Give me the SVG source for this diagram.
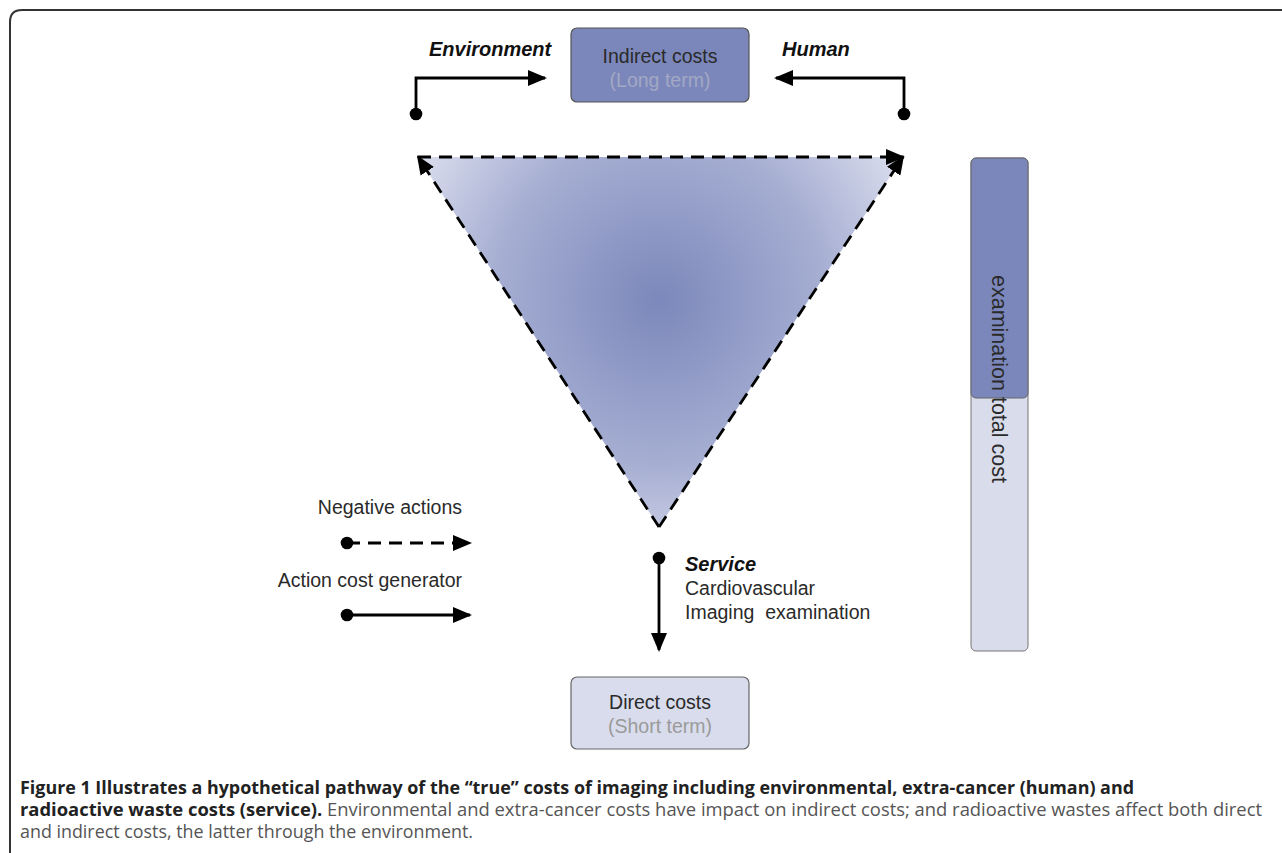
<svg xmlns="http://www.w3.org/2000/svg" width="1282" height="853" viewBox="0 0 1282 853">
  <style>
    .lbl { font-family: "Liberation Sans", Arial, sans-serif; font-size: 19.5px; fill: #2a2a2a; }
    .bi { font-family: "Liberation Sans", Arial, sans-serif; font-size: 20px; font-weight: bold; font-style: italic; fill: #111; }
    .sub { font-family: "Liberation Sans", Arial, sans-serif; font-size: 19.5px; }
    .cap { font-family: "Open Sans", "Liberation Sans", sans-serif; font-size: 18px; }
    .solid { fill: none; stroke: #000; stroke-width: 2.8; }
    .dash { fill: none; stroke: #000; stroke-width: 2.8; stroke-dasharray: 13 8; }
  </style>
  <defs>
    <radialGradient id="tri" gradientUnits="userSpaceOnUse" cx="659" cy="300" r="300">
      <stop offset="0" stop-color="#7c88bb"/>
      <stop offset="0.55" stop-color="#a6aed2"/>
      <stop offset="1" stop-color="#e4e7f3"/>
    </radialGradient>
    <marker id="ah" markerUnits="userSpaceOnUse" markerWidth="20" markerHeight="16" refX="17" refY="8" orient="auto">
      <path d="M0,0 L19,8 L0,16 z" fill="#000"/>
    </marker>
    <marker id="dot" markerUnits="userSpaceOnUse" markerWidth="14" markerHeight="14" refX="7" refY="7" orient="auto">
      <circle cx="7" cy="7" r="6.3" fill="#000"/>
    </marker>
  </defs>

  <rect width="1282" height="853" fill="#fff"/>
  <path id="frame" d="M10,853 V22 Q10,10 22,10 H1282" fill="none" stroke="#333" stroke-width="2"/>

  <g id="triangle">
    <polygon points="418,157 903,157 659,527" fill="url(#tri)"/>
  </g>

  <g id="connectors">
    <path class="solid" d="M416,114 V78 H545" marker-start="url(#dot)" marker-end="url(#ah)"/>
    <path class="solid" d="M904,114 V78 H776" marker-start="url(#dot)" marker-end="url(#ah)"/>
    <path class="dash" d="M659,527 L418,157" marker-end="url(#ah)"/>
    <path class="dash" d="M418,157 L903,157" marker-end="url(#ah)"/>
    <path class="dash" d="M659,527 L903,157" marker-end="url(#ah)"/>
    <path class="solid" d="M659,558 V650" marker-start="url(#dot)" marker-end="url(#ah)"/>
    <path class="dash" d="M347,543 H470" marker-start="url(#dot)" marker-end="url(#ah)"/>
    <path class="solid" d="M347,615 H470" marker-start="url(#dot)" marker-end="url(#ah)"/>
  </g>

  <g id="indirect">
    <rect x="571" y="28" width="178" height="74" rx="6" fill="#7b87bb" stroke="#555" stroke-width="1.2"/>
    <text class="lbl" x="660" y="63" text-anchor="middle">Indirect costs</text>
    <text class="sub" x="660" y="87" text-anchor="middle" fill="#a3a8c4">(Long term)</text>
  </g>

  <g id="direct">
    <rect x="571" y="677" width="178" height="72" rx="6" fill="#d9dcec" stroke="#666" stroke-width="1.2"/>
    <text class="lbl" x="660" y="709" text-anchor="middle">Direct costs</text>
    <text class="sub" x="660" y="733" text-anchor="middle" fill="#9a9a9a">(Short term)</text>
  </g>

  <g id="environment">
    <text class="bi" x="429" y="56">Environment</text>
  </g>
  <g id="human">
    <text class="bi" x="782" y="56">Human</text>
  </g>
  <g id="service">
    <text class="bi" x="685" y="571">Service</text>
    <text class="lbl" x="685" y="595">Cardiovascular</text>
    <text class="lbl" x="685" y="619" xml:space="preserve">Imaging  examination</text>
  </g>

  <g id="legend">
    <text class="lbl" x="462" y="514" text-anchor="end">Negative actions</text>
    <text class="lbl" x="462" y="587" text-anchor="end">Action cost generator</text>
  </g>

  <g id="bar">
    <rect x="971" y="158" width="57" height="493" rx="5" fill="#d9dcea" stroke="#777" stroke-width="1"/>
    <rect x="971" y="158" width="57" height="240" rx="5" fill="#7b87bb" stroke="#666" stroke-width="1"/>
    <text class="lbl" style="font-size:21.5px" transform="translate(992,275) rotate(90)">examination total cost</text>
  </g>

  <g id="caption">
    <text class="cap" x="20" y="794" textLength="1114" lengthAdjust="spacingAndGlyphs" font-weight="bold" fill="#222">Figure 1 Illustrates a hypothetical pathway of the “true” costs of imaging including environmental, extra-cancer (human) and</text>
    <text class="cap" x="20" y="816" textLength="1242" lengthAdjust="spacingAndGlyphs"><tspan font-weight="bold" fill="#222">radioactive waste costs (service).</tspan><tspan fill="#555"> Environmental and extra-cancer costs have impact on indirect costs; and radioactive wastes affect both direct</tspan></text>
    <text class="cap" x="20" y="838" textLength="453" lengthAdjust="spacingAndGlyphs" fill="#555">and indirect costs, the latter through the environment.</text>
  </g>
</svg>
